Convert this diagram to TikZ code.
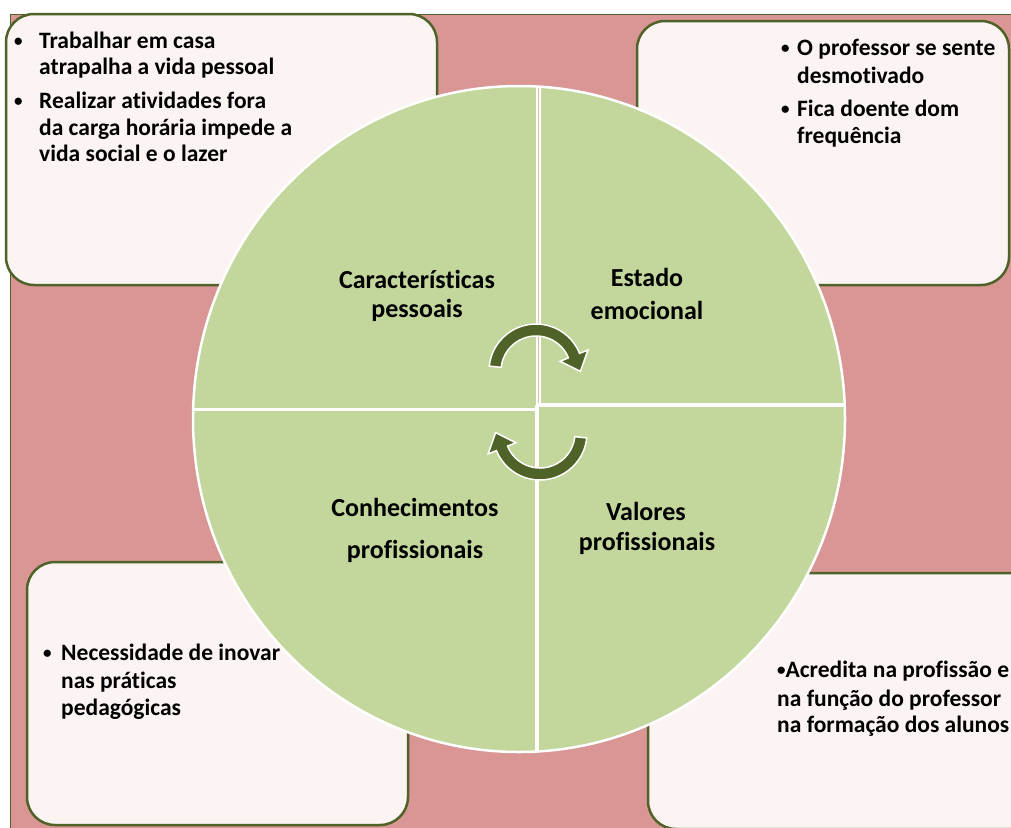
\documentclass[tikz,border=0pt]{standalone}
\usepackage{fontspec}
\setmainfont{Carlito}[Ligatures=NoCommon]
\usetikzlibrary{calc}
\definecolor{bgpink}{RGB}{217,150,148}
\definecolor{quadgreen}{RGB}{195,214,155}
\definecolor{darkolive}{RGB}{79,98,40}
\definecolor{boxfill}{RGB}{252,243,243}
\newcommand{\smallbul}{\raisebox{1.5pt}{\fontsize{17}{17}\selectfont •}}
\begin{document}
\begin{tikzpicture}[x=1pt,y=-1pt,
  infobox/.style={draw=darkolive, line width=2.5pt, fill=boxfill, rounded corners=28pt},
  itemtext/.style={anchor=base west, inner sep=0pt, font=\bfseries\fontsize{23.5}{26}\selectfont},
  quadlabel/.style={anchor=base, inner sep=0pt, font=\bfseries\fontsize{26}{30}\selectfont},
  arrowshape/.style={fill=darkolive, draw=white, line width=1.5pt, line join=miter},
  sepline/.style={white, line width=3.5pt}]
\useasboundingbox (0,0) rectangle (1011,827);
\clip (0,0) rectangle (1011,827);
\fill[white] (0,0) rectangle (1011,827);
% background panel
\draw[fill=bgpink, draw=darkolive, line width=1pt] (10,14) rectangle (1040,850);
% text boxes
\draw[infobox] (6,14) rectangle (437,285);
\draw[infobox] (637,21) rectangle (1009,285);
\draw[infobox] (27,562) rectangle (408,825);
\draw[infobox] (648,573) rectangle (1045,829);
% circle
\fill[quadgreen] (519,419) ellipse [x radius=326, y radius=333];
\begin{scope}
  \clip (519,419) ellipse [x radius=326, y radius=333];
  \draw[sepline, line width=5pt] (538.5,70) -- (538.5,407);
  \draw[bgpink!70!white, line width=1.2pt] (538.5,70) -- (538.5,404);
  \draw[sepline] (180,409.5) -- (538,409.5);
  \draw[sepline] (537,405) -- (860,405);
  \draw[sepline] (537,405) -- (537,770);
\end{scope}
\draw[white, line width=2.5pt] (519,419) ellipse [x radius=326, y radius=333];
% cycle arrows
\coordinate (c1) at (536,371);
\coordinate (c2) at (540,433);
\filldraw[arrowshape] ($(c1)+(-174:47)$) arc[start angle=-174, end angle=-22, radius=47]
  -- ($(c1)+(-22:56)$) -- ($(c1)+(-22:41)+(68:17)$) -- ($(c1)+(-22:26)$)
  -- ($(c1)+(-22:35)$) arc[start angle=-22, end angle=-174, radius=35] -- cycle;
\filldraw[arrowshape] ($(c2)+(6:47)$) arc[start angle=6, end angle=158, radius=47]
  -- ($(c2)+(158:56)$) -- ($(c2)+(158:41)+(248:17)$) -- ($(c2)+(158:26)$)
  -- ($(c2)+(158:35)$) arc[start angle=158, end angle=6, radius=35] -- cycle;
% quadrant labels
\node[quadlabel] (q1a) at (417,288) {Características};
\node[quadlabel] (q1b) at (417,317) {pessoais};
\node[quadlabel] (q2a) at (647,286) {Estado};
\node[quadlabel] (q2b) at (647,319) {emocional};
\node[quadlabel] (q3a) at (415,516) {Conhecimentos};
\node[quadlabel] (q3b) at (415,558) {profissionais};
\node[quadlabel] (q4a) at (646,520) {Valores};
\node[quadlabel] (q4b) at (647,550) {profissionais};
% top-left box text
\node[itemtext] (tlb1) at (14,48) {\smallbul};
\node[itemtext] (tl1) at (39,48) {Trabalhar em casa};
\node[itemtext] (tl2) at (39,74.5) {atrapalha a vida pessoal};
\node[itemtext] (tlb2) at (14,108) {\smallbul};
\node[itemtext] (tl3) at (39,108) {Realizar atividades fora};
\node[itemtext] (tl4) at (39,135) {da carga horária impede a};
\node[itemtext] (tl5) at (39,161) {vida social e o lazer};
% top-right box text
\node[itemtext] (trb1) at (781,55) {\smallbul};
\node[itemtext] (tr1) at (797,55) {O professor se sente};
\node[itemtext] (tr2) at (797,83) {desmotivado};
\node[itemtext] (trb2) at (781,116) {\smallbul};
\node[itemtext] (tr3) at (797,116) {Fica doente dom};
\node[itemtext] (tr4) at (797,143) {frequência};
% bottom-left box text
\node[itemtext] (blb1) at (43,660) {\smallbul};
\node[itemtext] (bl1) at (61,660) {Necessidade de inovar};
\node[itemtext] (bl2) at (61,688) {nas práticas};
\node[itemtext] (bl3) at (61,715) {pedagógicas};
% bottom-right box text
\node[itemtext] (br1) at (777,677) {\smallbul Acredita na profissão e};
\node[itemtext] (br2) at (777,706) {na função do professor};
\node[itemtext] (br3) at (777,732) {na formação dos alunos};
\end{tikzpicture}
\end{document}
